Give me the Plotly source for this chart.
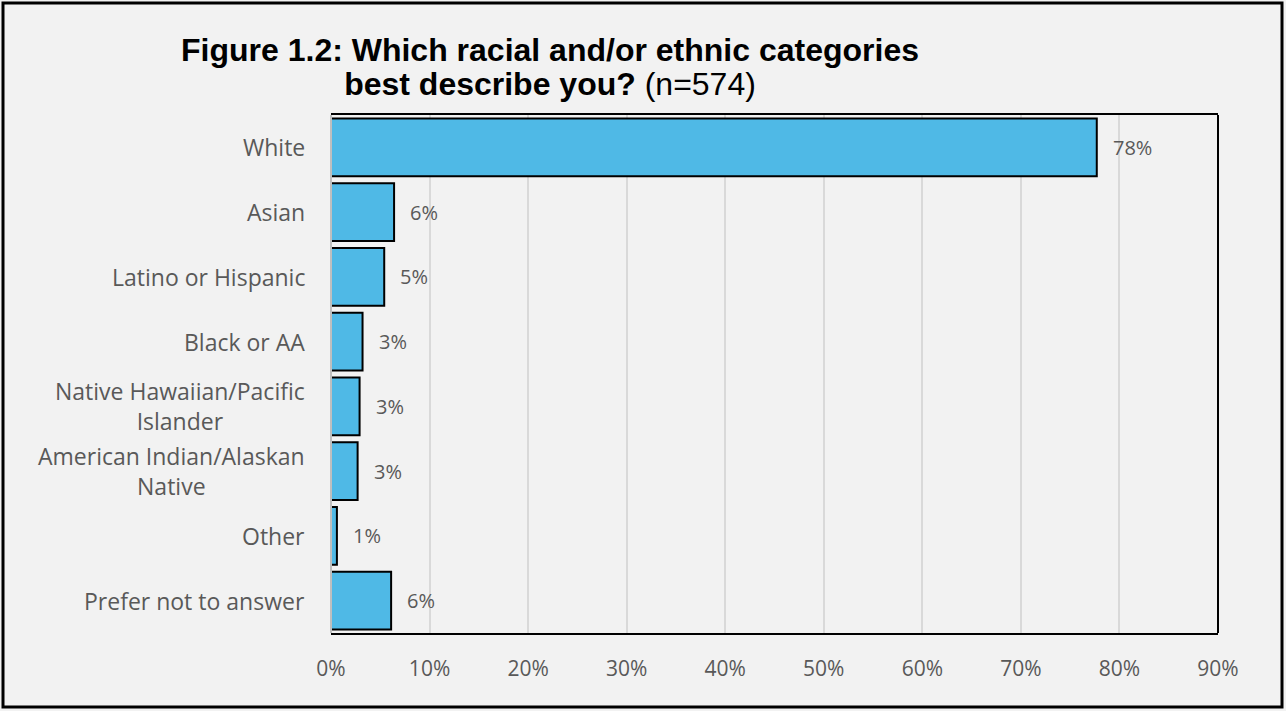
import plotly.graph_objects as go

categories = ["White", "Asian", "Latino or Hispanic", "Black or AA",
              "Native Hawaiian/Pacific<br>Islander", "American Indian/Alaskan<br>Native",
              "Other", "Prefer not to answer"]
values = [77.7, 6.4, 5.4, 3.2, 2.9, 2.7, 0.6, 6.1]
x_ticks = [0, 10, 20, 30, 40, 50, 60, 70, 80, 90]
x_tick_labels = [f"{t}%" for t in x_ticks]

W, H = 1286, 711
LEFT, RIGHT, TOP, BOTTOM = 331, 68, 115, 78
GRAY = "#595959"
FONT = "Open Sans"

fig = go.Figure()
fig.add_trace(go.Bar(
    y=categories, x=values, orientation="h",
    marker=dict(color="#4FB9E6", line=dict(color="black", width=2)),
    hoverinfo="skip",
))

annotations = []
for cat, v in zip(categories, values):
    annotations.append(dict(
        x=v, y=cat, xref="x", yref="y", text=f"{round(v)}%",
        showarrow=False, xanchor="left", xshift=14,
        font=dict(family=FONT, size=20, color=GRAY),
    ))
    annotations.append(dict(
        x=0, y=cat, xref="x", yref="y", text=cat,
        showarrow=False, xanchor="right", align="center", xshift=-24,
        font=dict(family=FONT, size=23, color=GRAY),
    ))

T_SPAN = "<span style='font-size:32px'>{}</span>"
title_text = (T_SPAN.format("<b>Figure 1.2: Which racial and/or ethnic categories</b>")
              + "<br>" + T_SPAN.format("<b>best describe you?</b> (n=574)"))

fig.update_layout(
    width=W, height=H,
    margin=dict(l=LEFT, r=RIGHT, t=TOP, b=BOTTOM),
    paper_bgcolor="#F2F2F2", plot_bgcolor="#F2F2F2",
    showlegend=False, bargap=0.11,
    title=dict(
        text=title_text,
        x=550 / W, xref="container", xanchor="center",
        y=1 - 61 / H, yref="container", yanchor="middle",
        font=dict(family="Liberation Sans, Arial", size=26, color="black"),
    ),
    xaxis=dict(
        range=[0, 90], tickvals=x_ticks, ticktext=x_tick_labels,
        showgrid=True, gridcolor="#D9D9D9", gridwidth=2,
        showline=True, linecolor="black", linewidth=2, mirror=True,
        ticks="outside", ticklen=16, tickcolor="rgba(0,0,0,0)",
        tickfont=dict(family=FONT, size=21, color=GRAY),
        zeroline=False, fixedrange=True,
    ),
    yaxis=dict(
        autorange="reversed", showticklabels=False, showgrid=False,
        showline=False, zeroline=False, fixedrange=True,
    ),
    annotations=annotations,
    shapes=[
        dict(type="line", xref="x domain", yref="y domain", x0=1, x1=1, y0=0, y1=1,
             line=dict(color="black", width=2)),
        dict(type="line", xref="x domain", yref="y domain", x0=0, x1=0, y0=0, y1=1,
             line=dict(color="#BFBFBF", width=2)),
        dict(type="rect", xref="paper", yref="paper",
             x0=-(LEFT - 3) / (W - LEFT - RIGHT), x1=1 + (RIGHT - 4) / (W - LEFT - RIGHT),
             y0=-(BOTTOM - 4) / (H - TOP - BOTTOM), y1=1 + (TOP - 3) / (H - TOP - BOTTOM),
             line=dict(color="black", width=3), layer="below"),
    ],
)

fig.write_html("out.html")
